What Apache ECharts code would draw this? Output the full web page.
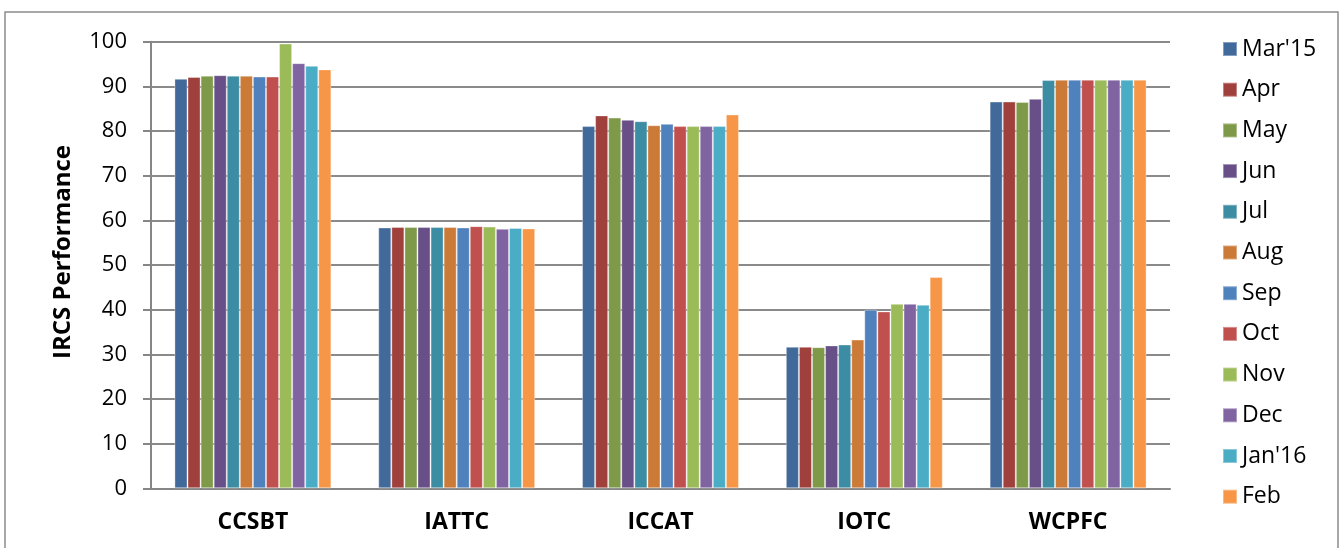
<!DOCTYPE html>
<html>
<head>
<meta charset="utf-8">
<script src="https://cdn.jsdelivr.net/npm/echarts@6/dist/echarts.min.js"></script>
<style>
html,body{margin:0;padding:0;background:#fff;}
#chart{width:1344px;height:548px;}
</style>
</head>
<body>
<div id="chart"></div>
<script>
const categories = ['CCSBT', 'IATTC', 'ICCAT', 'IOTC', 'WCPFC'];
const months = ["Mar'15", 'Apr', 'May', 'Jun', 'Jul', 'Aug', 'Sep', 'Oct', 'Nov', 'Dec', "Jan'16", 'Feb'];
const colors = ['#416A9B', '#A0403D', '#7E9A48', '#684F88', '#3C8DA3', '#CC7A37', '#4F81BD', '#C0504D', '#9BBB59', '#8064A2', '#4BACC6', '#F79646'];

const marValues = [91.7, 58.4, 81.1, 31.7, 86.6];
const aprValues = [92.1, 58.5, 83.5, 31.7, 86.6];
const mayValues = [92.4, 58.5, 83.0, 31.6, 86.5];
const junValues = [92.5, 58.5, 82.5, 32.0, 87.2];
const julValues = [92.4, 58.5, 82.2, 32.2, 91.4];
const augValues = [92.4, 58.5, 81.3, 33.3, 91.5];
const sepValues = [92.2, 58.4, 81.6, 40.0, 91.5];
const octValues = [92.2, 58.7, 81.1, 39.6, 91.5];
const novValues = [99.6, 58.6, 81.1, 41.3, 91.5];
const decValues = [95.2, 58.1, 81.1, 41.3, 91.5];
const janValues = [94.6, 58.3, 81.1, 41.1, 91.5];
const febValues = [93.8, 58.2, 83.7, 47.3, 91.5];

const seriesValues = [marValues, aprValues, mayValues, junValues, julValues, augValues,
  sepValues, octValues, novValues, decValues, janValues, febValues];
const yTicks = [0, 10, 20, 30, 40, 50, 60, 70, 80, 90, 100];

const chart = echarts.init(document.getElementById('chart'), null, {renderer: 'canvas'});
const font = 'Open Sans';
chart.setOption({
  animation: false,
  backgroundColor: '#fff',
  color: colors,
  graphic: [{
    type: 'rect',
    shape: {x: 5, y: 12, width: 1333, height: 560},
    style: {fill: 'none', stroke: '#8c8c8c', lineWidth: 1.5},
    silent: true
  }],
  grid: {left: 151, right: 174, top: 41.7, bottom: 59.7},
  legend: {
    orient: 'vertical',
    left: 1217,
    top: 32,
    itemWidth: 14,
    itemHeight: 14,
    itemGap: 16.7,
    icon: 'rect',
    textStyle: {fontFamily: font, fontSize: 23, color: '#000', lineHeight: 24},
    data: months
  },
  xAxis: {
    type: 'category',
    data: categories,
    axisLine: {lineStyle: {color: '#868686', width: 2}},
    axisTick: {show: false},
    axisLabel: {fontFamily: font, fontSize: 23, fontWeight: 'bold', color: '#000', margin: 23}
  },
  yAxis: {
    type: 'value',
    min: 0,
    max: 100,
    interval: 10,
    name: 'IRCS Performance',
    nameLocation: 'middle',
    nameGap: 76,
    nameTextStyle: {fontFamily: font, fontSize: 24, fontWeight: 'bold', color: '#000', padding: [0, 0, 0, 26]},
    axisLine: {show: true, lineStyle: {color: '#868686', width: 2}},
    axisTick: {show: true, inside: false, length: 8, lineStyle: {color: '#868686', width: 2}},
    axisLabel: {fontFamily: font, fontSize: 22, color: '#000', margin: 24,
      formatter: v => yTicks.includes(v) ? String(v) : ''},
    splitLine: {show: true, lineStyle: {color: '#8a8a8a', width: 2}}
  },
  series: months.map((m, i) => ({
    name: m,
    type: 'bar',
    data: seriesValues[i],
    barGap: '0%',
    barCategoryGap: '23%',
    itemStyle: {borderColor: 'rgba(255,255,255,0.35)', borderWidth: 1}
  }))
});
</script>
</body>
</html>
